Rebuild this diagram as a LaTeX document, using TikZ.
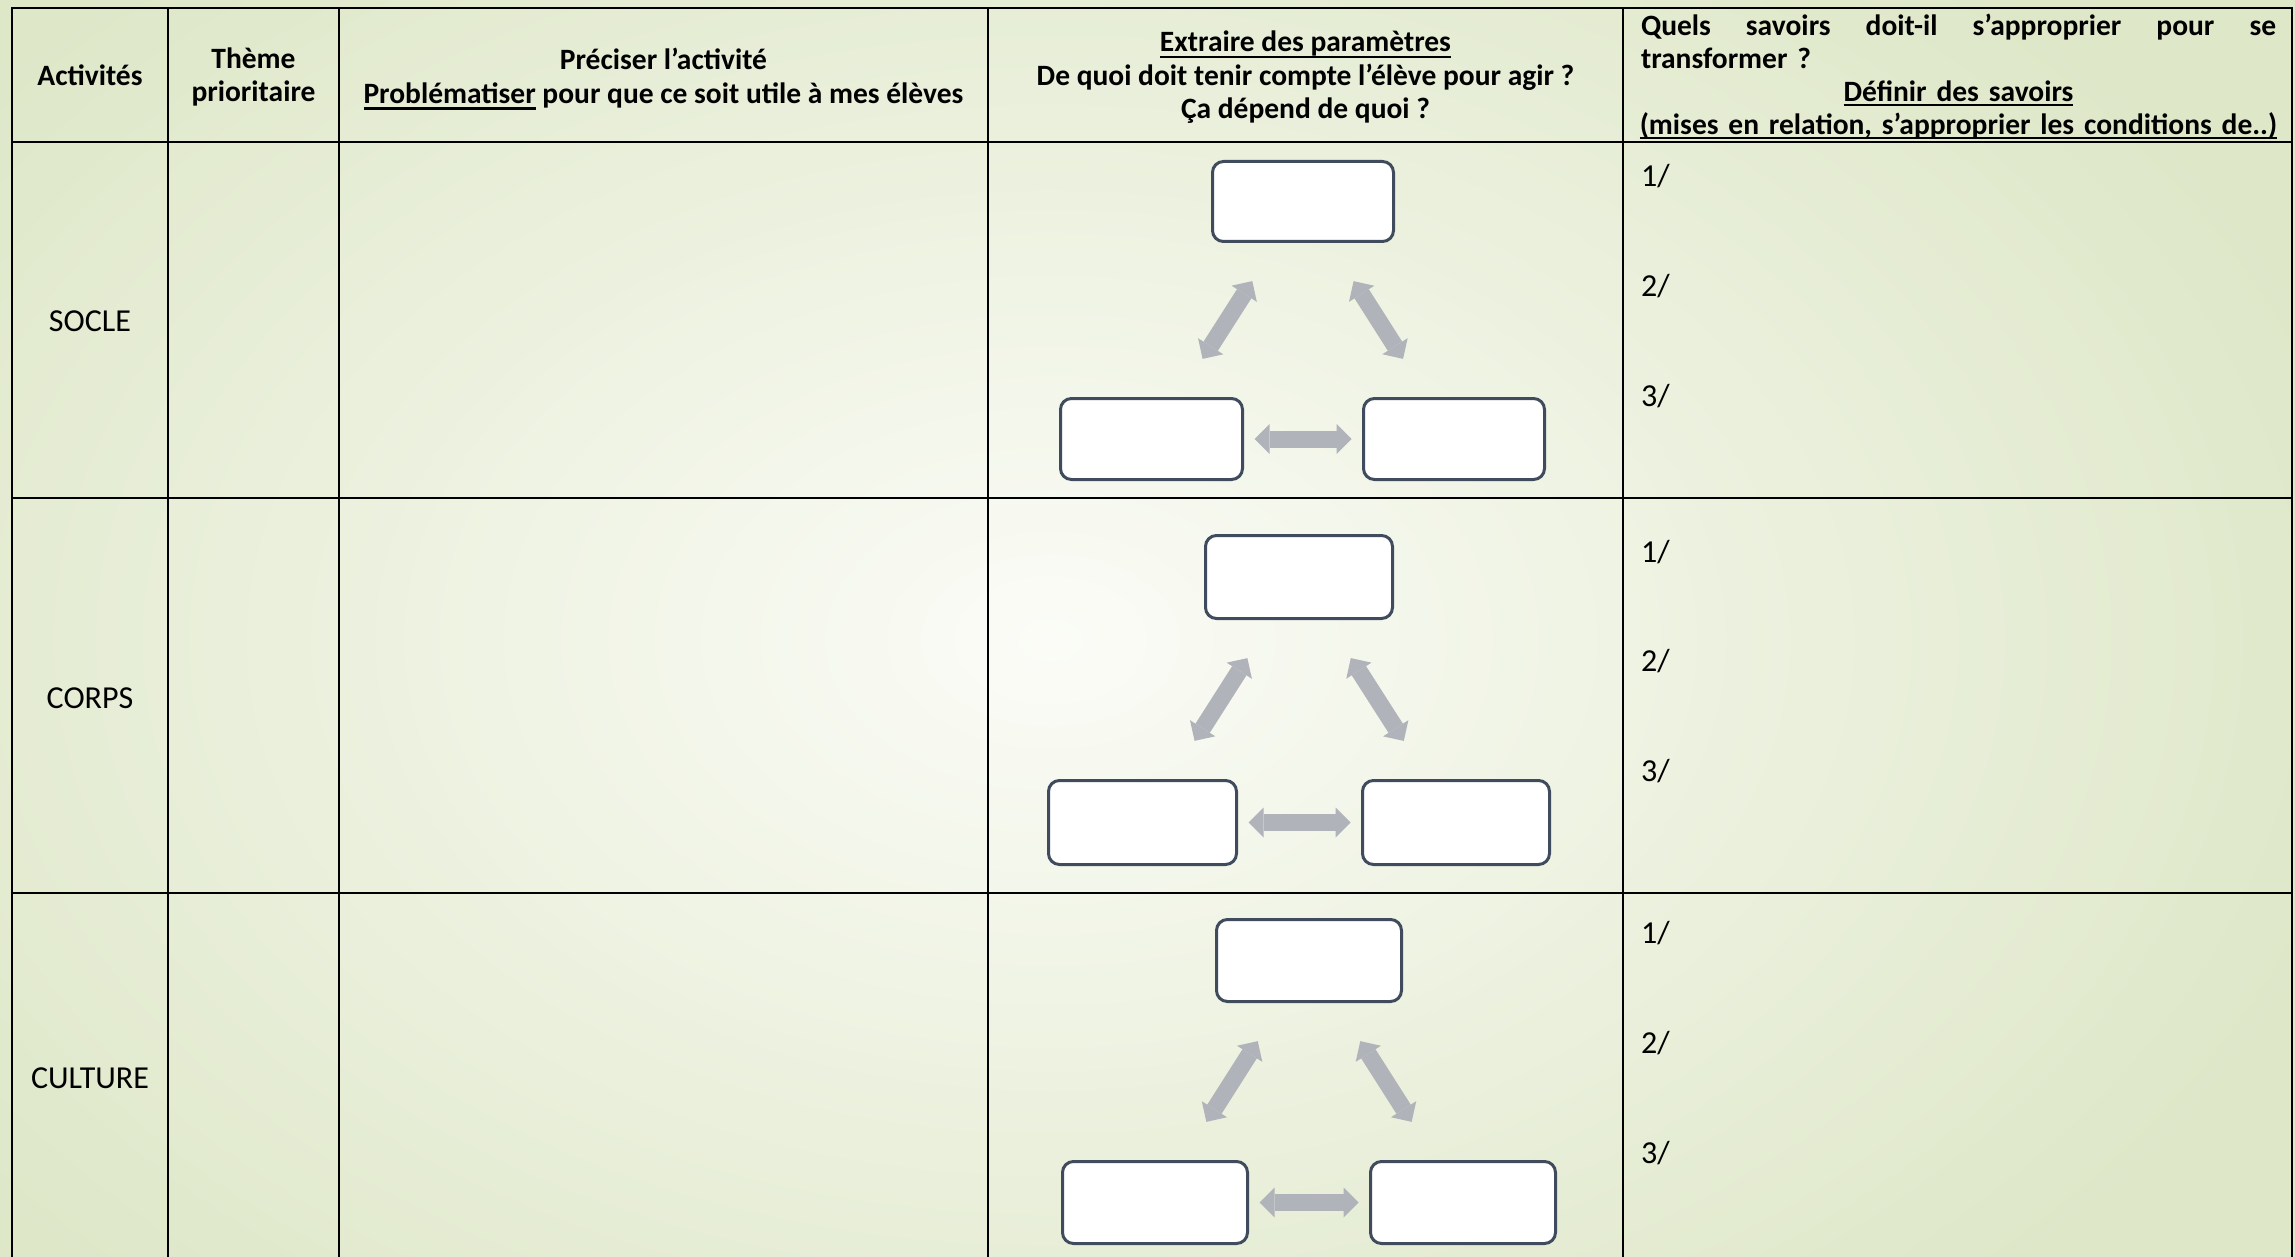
\documentclass[tikz,border=0pt]{standalone}
\usepackage{fontspec}
\setmainfont{Carlito}
\usetikzlibrary{arrows.meta}
\definecolor{bgout}{RGB}{222,231,200}
\definecolor{bgin}{RGB}{251,252,247}
\definecolor{boxline}{RGB}{64,76,94}
\definecolor{arrowgray}{RGB}{176,179,185}
\newsavebox{\myulbox}
\newcommand{\myul}[1]{\sbox{\myulbox}{#1}\mbox{\rlap{\rule[-6.5pt]{\wd\myulbox}{2.4pt}}\usebox{\myulbox}}}
\newcommand{\myulb}[1]{\sbox{\myulbox}{#1}\mbox{\rlap{\rule[-5pt]{\wd\myulbox}{2.2pt}}\usebox{\myulbox}}}
\newcommand{\hstrut}{\rule{0pt}{24pt}}
\newcommand{\dstrut}{\rule[-9pt]{0pt}{9pt}}
\begin{document}
\begin{tikzpicture}[x=1pt,y=-1pt,
  tline/.style={line width=2.4pt, black},
  hdr/.style={font=\bfseries\fontsize{29.5}{33.5}\selectfont, align=center, inner sep=0pt},
  body/.style={font=\fontsize{32}{38}\selectfont, inner sep=0pt},
  pbox/.style={draw=boxline, fill=white, line width=3pt, rounded corners=11pt, inner sep=0pt, outer sep=0pt},
  barrow/.style={draw=arrowgray, line width=17pt,
    {Triangle[width=30pt,length=15pt,line width=0pt]}-{Triangle[width=30pt,length=15pt,line width=0pt]}},
  diag/.style={barrow, shorten <=47pt, shorten >=47pt},
  horiz/.style={barrow, shorten <=12pt, shorten >=12pt}
]
\useasboundingbox (0,0) rectangle (2295,1257);
\begin{scope}
  \clip (0,0) rectangle (2295,1257);
  \fill[bgout] (0,0) rectangle (2295,1257);
  \shade[inner color=bgin, outer color=bgout] (1050,640) ellipse (1350pt and 900pt);
\end{scope}

% table grid
\draw[tline] (12,1275) -- (12,8) -- (2292,8) -- (2292,1275);
\foreach \xx in {168,339,988,1623} \draw[tline] (\xx,8) -- (\xx,1275);
\foreach \yy in {142,498,893} \draw[tline] (12,\yy) -- (2292,\yy);

% header
\node[hdr] (h1) at (90,75.5) {Activités};
\node[hdr] (h2) at (253.5,77) {Thème\\prioritaire};
\node[hdr] (h3) at (663.5,79) {Préciser l’activité\\\myul{Problématiser} pour que ce soit utile à mes élèves};
\node[hdr] (h4) at (1305.5,77.5) {\myul{Extraire des paramètres}\\De quoi doit tenir compte l’élève pour agir ?\\Ça dépend de quoi ?};
\node[hdr, font=\bfseries\fontsize{29.5}{33}\selectfont, text width=635pt, align=left] (h5) at (1958.5,77.2) {%
\hstrut\hbox to 635pt{Quels\hfill savoirs\hfill doit-il\hfill s’approprier\hfill pour\hfill se}\\
transformer ?\\
\makebox[635pt][c]{\myulb{Définir des savoirs}}\\
\makebox[635pt][c]{\myulb{(mises en relation, s’approprier les conditions de..)}}\dstrut};

% row labels
\node[body] (socle) at (90,321) {SOCLE};
\node[body] (corps) at (90,698) {CORPS};
\node[body] (culture) at (90,1078) {CULTURE};

% numbered lines
\node[body, anchor=base west] (a1) at (1641,187) {1/};
\node[body, anchor=base west] (a2) at (1641,297) {2/};
\node[body, anchor=base west] (a3) at (1641,406) {3/};
\node[body, anchor=base west] (b1) at (1641,562) {1/};
\node[body, anchor=base west] (b2) at (1641,671) {2/};
\node[body, anchor=base west] (b3) at (1641,781) {3/};
\node[body, anchor=base west] (c1) at (1641,943) {1/};
\node[body, anchor=base west] (c2) at (1641,1053) {2/};
\node[body, anchor=base west] (c3) at (1641,1163) {3/};

% row 1 diagram
\node[pbox, minimum width=181pt, minimum height=80pt] (r1t) at (1303,201.5) {};
\node[pbox, minimum width=182pt, minimum height=81pt] (r1l) at (1151.5,439) {};
\node[pbox, minimum width=181pt, minimum height=81pt] (r1r) at (1454,439) {};
\draw[diag] (r1l) -- (r1t);
\draw[diag] (r1r) -- (r1t);
\draw[horiz] (r1l) -- (r1r);

% row 2 diagram
\node[pbox, minimum width=187pt, minimum height=83pt] (r2t) at (1299,577) {};
\node[pbox, minimum width=188pt, minimum height=84pt] (r2l) at (1142.5,822.5) {};
\node[pbox, minimum width=187pt, minimum height=84pt] (r2r) at (1456,822.5) {};
\draw[diag] (r2l) -- (r2t);
\draw[diag] (r2r) -- (r2t);
\draw[horiz] (r2l) -- (r2r);

% row 3 diagram
\node[pbox, minimum width=185pt, minimum height=82pt] (r3t) at (1309,960.5) {};
\node[pbox, minimum width=185pt, minimum height=82pt] (r3l) at (1155,1202.5) {};
\node[pbox, minimum width=185pt, minimum height=82pt] (r3r) at (1463,1202.5) {};
\draw[diag] (r3l) -- (r3t);
\draw[diag] (r3r) -- (r3t);
\draw[horiz] (r3l) -- (r3r);
\end{tikzpicture}
\end{document}
